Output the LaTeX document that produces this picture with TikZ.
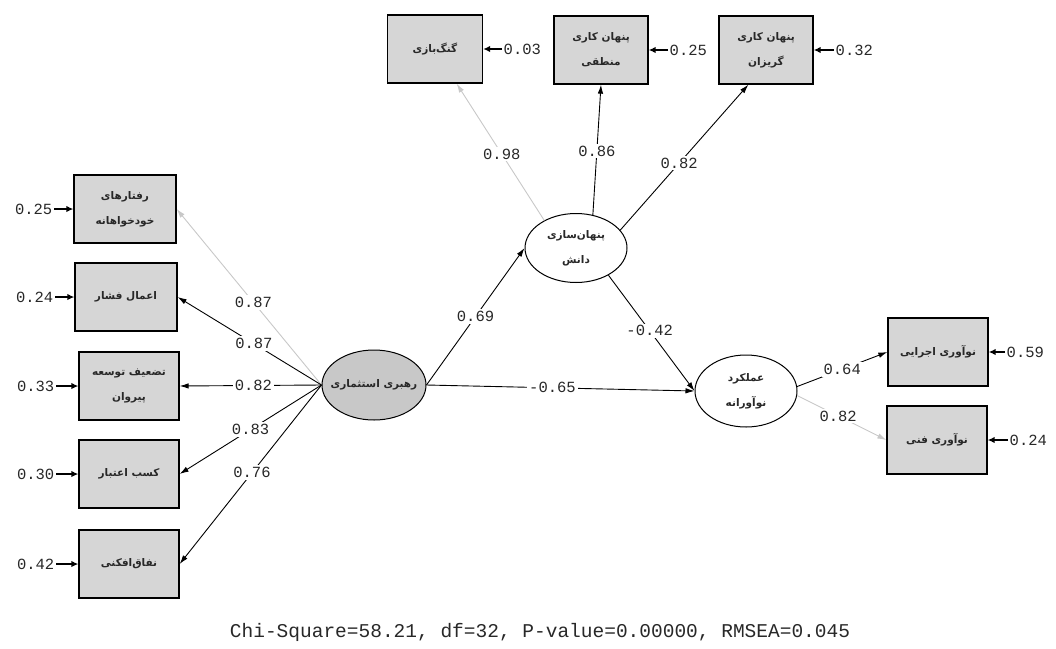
\documentclass[tikz,border=0pt]{standalone}
\usepackage{fontspec}
\setmainfont{DejaVu Sans}
\newfontfamily\arabicfont[Script=Arabic]{DejaVu Sans}
\newfontfamily\monofnt{Liberation Mono}
\TeXXeTstate=1
\usetikzlibrary{arrows.meta,shapes.geometric}
\newcommand\faTxt[1]{{\arabicfont\bfseries\beginR #1\endR}}
\definecolor{boxgray}{RGB}{214,214,214}
\definecolor{leadgray}{RGB}{200,200,200}
\definecolor{lightline}{RGB}{200,200,200}
\definecolor{txtgray}{RGB}{40,40,40}
\tikzset{
  obs/.style={draw, line width=1.3pt, fill=boxgray, minimum width=#1, minimum height=68pt, inner sep=1pt,
              align=center, text=txtgray, font=\fontsize{10.5}{25}\selectfont},
  obs/.default=100pt,
  lat/.style={ellipse, draw, line width=1pt, minimum width=102pt, minimum height=70pt, inner sep=0pt,
              align=center, text=txtgray, font=\fontsize{10.5}{25}\selectfont},
  num/.style={font=\monofnt\fontsize{15.5}{15.5}\selectfont, inner sep=1.5pt, text=txtgray},
  lbl/.style={num, fill=white, inner sep=2pt},
  conn/.style={line width=0.9pt, -{Latex[length=9pt,width=5.5pt]}},
  gconn/.style={conn, draw=lightline},
  err/.style={line width=1.4pt, -{Latex[length=7pt,width=6.5pt]}},
}
\begin{document}
\begin{tikzpicture}[x=1pt,y=-1pt]
\useasboundingbox (0,0) rectangle (1056,648);
% observed left
\node[obs=102pt] (b1) at (125,209) {\faTxt{رفتارهای}\\\faTxt{خودخواهانه}};
\node[obs=102pt] (b2) at (126,297) {\faTxt{اعمال فشار}};
\node[obs=100pt] (b3) at (129,386) {\faTxt{تضعیف توسعه}\\\faTxt{پیروان}};
\node[obs=100pt] (b4) at (129,474) {\faTxt{کسب اعتبار}};
\node[obs=100pt] (b5) at (129,564) {\faTxt{نفاق‌افکنی}};
% top observed
\node[obs=95pt] (t1) at (435,49) {\faTxt{گنگ‌بازی}};
\node[obs=94pt] (t2) at (601,50) {\faTxt{پنهان کاری}\\\faTxt{منطقی}};
\node[obs=94pt] (t3) at (766,50) {\faTxt{پنهان کاری}\\\faTxt{گریزان}};
% right observed
\node[obs=100pt] (r1) at (938,352) {\faTxt{نوآوری اجرایی}};
\node[obs=100pt] (r2) at (937,440) {\faTxt{نوآوری فنی}};
% latent
\node[lat, fill=leadgray, minimum width=104pt] (lead) at (374,385) {\makebox[50pt][c]{\faTxt{رهبری استثماری}}};
\node[lat, minimum height=69pt] (kh) at (576,248) {\faTxt{پنهان‌سازی}\\\faTxt{دانش}};
\node[lat, minimum height=72pt] (perf) at (746,391) {\faTxt{عملکرد}\\\faTxt{نوآورانه}};
% error terms left
\node[num, anchor=east] (e1) at (54,209) {0.25};
\node[num, anchor=east] (e2) at (55,297) {0.24};
\node[num, anchor=east] (e3) at (56,386) {0.33};
\node[num, anchor=east] (e4) at (56,474) {0.30};
\node[num, anchor=east] (e5) at (56,564) {0.42};
\foreach \i in {1,...,5} \draw[err] (e\i.east) -- (b\i.west);
% error terms top
\node[num, anchor=west] (et1) at (502,49) {0.03};
\node[num, anchor=west] (et2) at (668,50) {0.25};
\node[num, anchor=west] (et3) at (834,50) {0.32};
\foreach \i in {1,2,3} \draw[err] (et\i.west) -- (t\i.east);
% error terms right
\node[num, anchor=west] (er1) at (1005,352) {0.59};
\node[num, anchor=west] (er2) at (1008,440) {0.24};
\foreach \i in {1,2} \draw[err] (er\i.west) -- (r\i.east);
% loadings of leader
\draw[gconn] (lead.west) -- node[lbl, pos=0.47] {0.87} (b1.east);
\draw[conn] (lead.west) -- node[lbl, pos=0.47] {0.87} (b2.east);
\draw[conn] (lead.west) -- node[lbl, pos=0.48] {0.82} (b3.east);
\draw[conn] (lead.west) -- node[lbl, pos=0.5] {0.83} (b4.east);
\draw[conn] (lead.west) -- node[lbl, pos=0.49] {0.76} (b5.east);
% structural paths
\draw[conn] (lead.east) -- node[lbl, pos=0.5] {0.69} (kh.west);
\draw[conn] (lead.east) -- node[lbl, pos=0.47] {-0.65} (perf.west);
\draw[conn] (kh.-40) -- node[lbl, pos=0.48] {-0.42} (perf.west);
% loadings of knowledge hiding
\draw[gconn] (kh.139) -- node[lbl, pos=0.485] {0.98} (t1.-58);
\draw[conn] (kh.63) -- node[lbl, pos=0.49] {0.86} (t2.south);
\draw[conn] (kh.22) -- node[lbl, pos=0.46] {0.82} (t3.-117);
% loadings of performance
\draw[conn] (perf.5) -- node[lbl, pos=0.5] {0.64} (r1.west);
\draw[gconn] (perf.-5) -- node[lbl, pos=0.46] {0.82} (r2.west);
% fit statistics
\node[font=\monofnt\fontsize{19.5}{19.5}\selectfont, inner sep=0pt, text=txtgray] (fit) at (540,632)
  {Chi-Square=58.21, df=32, P-value=0.00000, RMSEA=0.045};
\end{tikzpicture}
\end{document}
